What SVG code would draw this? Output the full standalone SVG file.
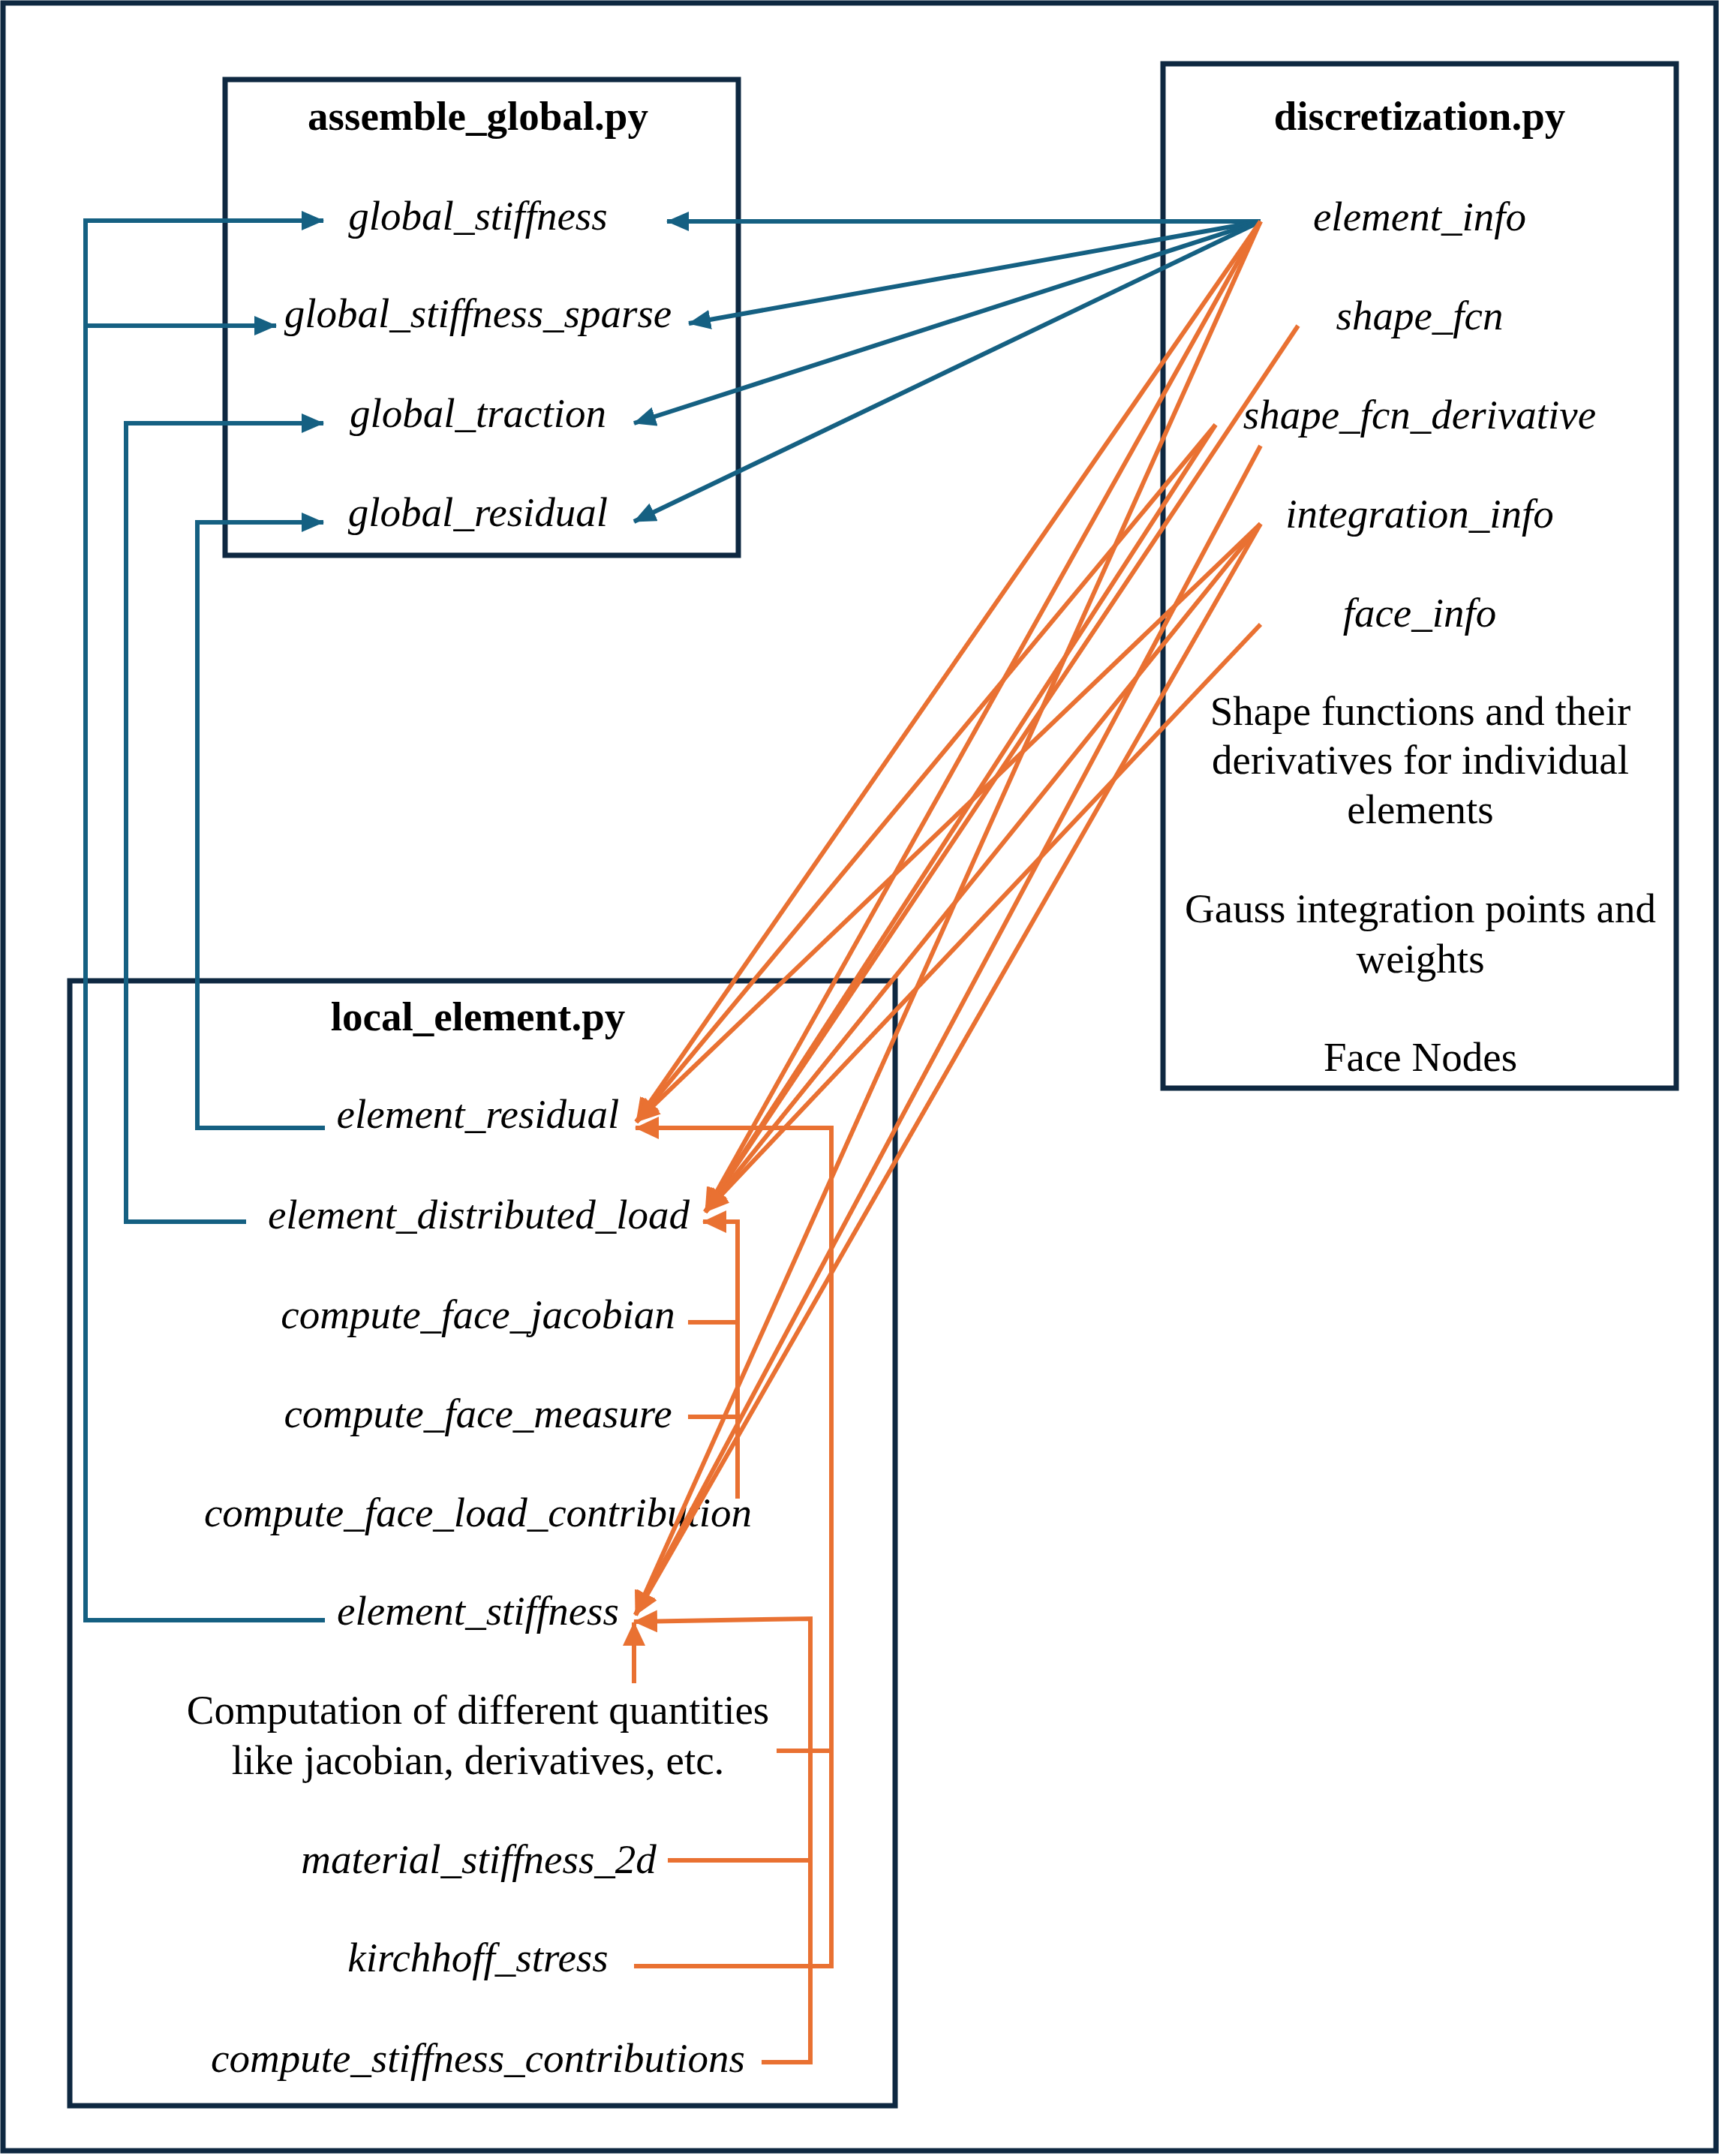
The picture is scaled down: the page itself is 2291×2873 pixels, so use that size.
<svg xmlns="http://www.w3.org/2000/svg" width="2291" height="2873" viewBox="0 0 2291 2873">
<defs>
<style>
.box{fill:none;stroke:#0e2841;stroke-width:7}
.t{font-family:"Liberation Serif","Times New Roman",serif;font-size:55px;fill:#000;text-anchor:middle}
.i{font-style:italic}
.b{font-weight:bold}
.bl{fill:none;stroke:#156082;stroke-width:6}
.or{fill:none;stroke:#e97132;stroke-width:6}
</style>
<marker id="ab" markerUnits="userSpaceOnUse" markerWidth="32" markerHeight="28" refX="29" refY="13" orient="auto"><path d="M0,0 L30,13 L0,26 z" fill="#156082"/></marker>
<marker id="ao" markerUnits="userSpaceOnUse" markerWidth="34" markerHeight="32" refX="31" refY="15" orient="auto"><path d="M0,0 L32,15 L0,30 z" fill="#e97132"/></marker>
</defs>
<rect x="0" y="0" width="2291" height="2873" fill="#fff"/>
<rect id="frame" class="box" x="4" y="4" width="2283" height="2862"/>

<g id="assemble_global">
<rect class="box" x="300" y="106" width="684" height="634"/>
<text class="t b" x="637" y="173">assemble_global.py</text>
<text class="t i" x="637" y="306">global_stiffness</text>
<text class="t i" x="637" y="436">global_stiffness_sparse</text>
<text class="t i" x="637" y="569">global_traction</text>
<text class="t i" x="637" y="701">global_residual</text>
</g>

<g id="discretization">
<rect class="box" x="1550" y="85" width="684" height="1365"/>
<text class="t b" x="1892" y="173">discretization.py</text>
<text class="t i" x="1892" y="307">element_info</text>
<text class="t i" x="1892" y="439">shape_fcn</text>
<text class="t i" x="1892" y="571">shape_fcn_derivative</text>
<text class="t i" x="1892" y="703">integration_info</text>
<text class="t i" x="1892" y="835">face_info</text>
<text class="t" x="1893" y="966">Shape functions and their</text>
<text class="t" x="1893" y="1031">derivatives for individual</text>
<text class="t" x="1893" y="1097">elements</text>
<text class="t" x="1893" y="1229">Gauss integration points and</text>
<text class="t" x="1893" y="1296">weights</text>
<text class="t" x="1893" y="1427">Face Nodes</text>
</g>

<g id="local_element">
<rect class="box" x="93" y="1307" width="1100" height="1499"/>
<text class="t b" x="637" y="1373">local_element.py</text>
<text class="t i" x="637" y="1503">element_residual</text>
<text class="t i" x="638" y="1637">element_distributed_load</text>
<text class="t i" x="637" y="1770">compute_face_jacobian</text>
<text class="t i" x="637" y="1902">compute_face_measure</text>
<text class="t i" x="637" y="2034">compute_face_load_contribution</text>
<text class="t i" x="637" y="2165">element_stiffness</text>
<text class="t" x="637" y="2297">Computation of different quantities</text>
<text class="t" x="637" y="2364">like jacobian, derivatives, etc.</text>
<text class="t i" x="638" y="2496">material_stiffness_2d</text>
<text class="t i" x="637" y="2627">kirchhoff_stress</text>
<text class="t i" x="637" y="2761">compute_stiffness_contributions</text>
</g>

<g id="connectors">
<!-- blue: local -> global -->
<polyline class="bl" points="433,2159 114,2159 114,294 431,294" marker-end="url(#ab)"/>
<line class="bl" x1="114" y1="434" x2="368" y2="434" marker-end="url(#ab)"/>
<polyline class="bl" points="328,1628 168,1628 168,564 431,564" marker-end="url(#ab)"/>
<polyline class="bl" points="433,1503 263,1503 263,696 431,696" marker-end="url(#ab)"/>
<!-- blue: element_info -> global -->
<line class="bl" x1="1680" y1="295" x2="889" y2="295" marker-end="url(#ab)"/>
<line class="bl" x1="1680" y1="295" x2="918" y2="431" marker-end="url(#ab)"/>
<line class="bl" x1="1680" y1="295" x2="845" y2="564" marker-end="url(#ab)"/>
<line class="bl" x1="1680" y1="295" x2="845" y2="695" marker-end="url(#ab)"/>
<!-- orange: discretization -> local -->
<line class="or" x1="1680" y1="295" x2="848" y2="1495" marker-end="url(#ao)"/>
<line class="or" x1="1680" y1="295" x2="940" y2="1615" marker-end="url(#ao)"/>
<line class="or" x1="1680" y1="295" x2="847" y2="2152" marker-end="url(#ao)"/>
<line class="or" x1="1730" y1="434" x2="940" y2="1615" marker-end="url(#ao)"/>
<line class="or" x1="1620" y1="566" x2="848" y2="1495" marker-end="url(#ao)"/>
<line class="or" x1="1620" y1="566" x2="940" y2="1615" marker-end="url(#ao)"/>
<line class="or" x1="1680" y1="594" x2="847" y2="2152" marker-end="url(#ao)"/>
<line class="or" x1="1680" y1="698" x2="848" y2="1495" marker-end="url(#ao)"/>
<line class="or" x1="1680" y1="698" x2="940" y2="1615" marker-end="url(#ao)"/>
<line class="or" x1="1680" y1="698" x2="847" y2="2152" marker-end="url(#ao)"/>
<line class="or" x1="1680" y1="832" x2="940" y2="1615" marker-end="url(#ao)"/>
<!-- orange: inside local_element -->
<polyline class="or" points="845,2620 1108,2620 1108,1503 847,1503" marker-end="url(#ao)"/>
<line class="or" x1="1035" y1="2333" x2="1108" y2="2333"/>
<polyline class="or" points="983,1997 983,1628 937,1628" marker-end="url(#ao)"/>
<line class="or" x1="917" y1="1762" x2="983" y2="1762"/>
<line class="or" x1="917" y1="1888" x2="983" y2="1888"/>
<polyline class="or" points="1015,2748 1080,2748 1080,2157 845,2161" marker-end="url(#ao)"/>
<line class="or" x1="890" y1="2479" x2="1080" y2="2479"/>
<line class="or" x1="845" y1="2243" x2="845" y2="2162" marker-end="url(#ao)"/>
</g>
</svg>
